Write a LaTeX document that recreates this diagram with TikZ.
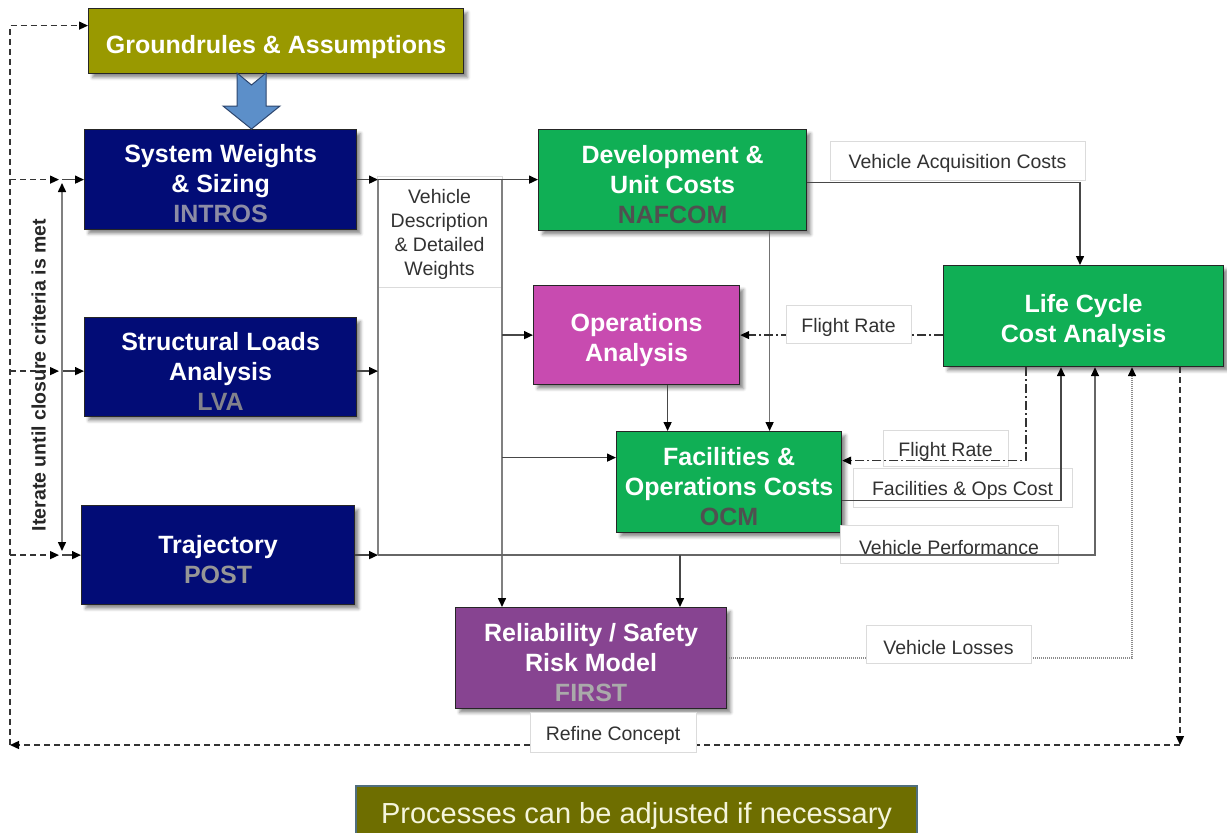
\documentclass[tikz,border=0pt]{standalone}
\usepackage{fontspec}
\setmainfont{Liberation Sans}
\usetikzlibrary{arrows.meta,shadows.blur,calc}
\definecolor{grsol}{RGB}{153,153,0}
\definecolor{navyb}{RGB}{2,12,118}
\definecolor{greenb}{RGB}{16,175,85}
\definecolor{magb}{RGB}{200,75,176}
\definecolor{purb}{RGB}{135,68,145}
\definecolor{botol}{RGB}{110,110,0}
\definecolor{botedge}{RGB}{80,110,125}
\definecolor{arrblue}{RGB}{92,143,201}
\definecolor{arrdark}{RGB}{45,70,110}
\definecolor{subintros}{RGB}{140,140,165}
\definecolor{sublva}{RGB}{130,130,140}
\definecolor{subpost}{RGB}{150,150,150}
\definecolor{subdark}{RGB}{80,80,80}
\definecolor{subfirst}{RGB}{170,170,170}
\definecolor{lbltext}{RGB}{50,50,50}
\definecolor{cream}{RGB}{245,245,220}
\newcommand\boxstrut{\rule{0pt}{27pt}}
\newcommand\lblstrut{\rule{0pt}{21pt}}
\begin{document}
\begin{tikzpicture}[x=1pt,y=-1pt,
  tip/.tip={Triangle[length=9pt,width=8pt,color=black]},
  proc/.style={draw=black!85, line width=1.2pt, anchor=north west, inner sep=0pt,
    align=center, text=white, font=\bfseries\fontsize{25}{30}\selectfont,
    blur shadow={shadow xshift=4pt, shadow yshift=-4pt, shadow blur radius=3pt, shadow opacity=45}},
  lbl/.style={draw=black!14, line width=0.8pt, fill=white, inner sep=0pt, align=center,
    text=lbltext, font=\fontsize{19.5}{24}\selectfont},
  conn/.style={draw=black!72, line width=1.5pt, -tip},
  gline/.style={draw=black!50, line width=1.5pt},
  dashconn/.style={draw=black!80, line width=1.3pt, dash pattern=on 6pt off 4pt, -tip},
  dashdotconn/.style={draw=black!80, line width=1.3pt, dash pattern=on 9pt off 3pt on 2pt off 3pt, -tip},
  dotconn/.style={draw=black!45, line width=1.5pt, dash pattern=on 1pt off 1pt, -tip}
]
\useasboundingbox (0,0) rectangle (1227,833);
\clip (0,0) rectangle (1227,833);

% ---- process boxes ----
\node[proc, fill=grsol, minimum width=375pt, minimum height=65pt] (grs) at (88,8) {\rule{0pt}{30pt}Groundrules \& Assumptions};
\node[proc, fill=navyb, minimum width=272pt, minimum height=100pt] (sws) at (84,129)
  {\boxstrut System Weights\\\& Sizing\\\textcolor{subintros}{INTROS}};
\node[proc, fill=navyb, minimum width=272pt, minimum height=99pt] (sla) at (84,317)
  {\boxstrut Structural Loads\\Analysis\\\textcolor{sublva}{LVA}};
\node[proc, fill=navyb, minimum width=273pt, minimum height=99pt] (traj) at (81,505)
  {\boxstrut Trajectory\\\textcolor{subpost}{POST}};
\node[proc, fill=greenb, minimum width=268pt, minimum height=101pt] (duc) at (538,129)
  {\boxstrut Development \&\\Unit Costs\\\textcolor{subdark}{NAFCOM}};
\node[proc, fill=magb, minimum width=206pt, minimum height=99pt] (ops) at (533,285)
  {\boxstrut Operations\\Analysis};
\node[proc, fill=greenb, minimum width=280pt, minimum height=101pt] (lcc) at (943,265)
  {\boxstrut Life Cycle\\Cost Analysis};
\node[proc, fill=greenb, minimum width=225pt, minimum height=101pt] (fac) at (616,431)
  {\boxstrut Facilities \&\\Operations Costs\\\textcolor{subdark}{OCM}};
\node[proc, fill=purb, minimum width=271pt, minimum height=101pt] (rel) at (455,607)
  {\boxstrut Reliability / Safety\\Risk Model\\\textcolor{subfirst}{FIRST}};

% ---- big arrow ----
\draw[fill=arrblue, draw=arrdark, line width=1pt]
  (237,73) -- (251.5,85) -- (266,73) -- (266,106) -- (280,106) -- (251.5,129)
  -- (223,106) -- (237,106) -- cycle;

% ---- labels lying under the lines ----
\node[lbl, minimum width=125pt, minimum height=111pt] (vdd) at (439.5,231.5)
  {\lblstrut Vehicle\\Description\\\& Detailed\\Weights};
\node[lbl, minimum width=125pt, minimum height=36pt] (fr2) at (945.5,448) {\lblstrut Flight Rate};
\node[lbl, minimum width=219pt, minimum height=39pt] (foc) at (962.5,487.5) {\lblstrut Facilities \& Ops Cost};
\node[lbl, minimum width=218pt, minimum height=38pt] (vp) at (949,544) {\lblstrut Vehicle Performance};

% ---- helper coordinates ----
\coordinate (j1) at (378,0);
\coordinate (j4) at (502,0);
\coordinate (j7) at (680,0);
\coordinate (vpx) at (1095,0);
\coordinate (vacx) at (1080,0);
\coordinate (frx) at (1026,0);
\coordinate (focx) at (1061,0);
\coordinate (vlx) at (1132,0);
\coordinate (rfx) at (1180,0);
\coordinate (bl) at (1180,745);
\coordinate (lb) at (10,745);
\coordinate (ix) at (59,0);
\coordinate (iv) at (62,0);
\coordinate (itop) at (62,183);
\coordinate (ibot) at (62,551);
\coordinate (slaout) at ([yshift=-4pt]sla.east);
\coordinate (slain) at ([yshift=-4pt]sla.west);
\coordinate (facin) at ([yshift=24.5pt]fac.west);
\coordinate (opsout) at ([xshift=31pt]ops.south);
\coordinate (ducout) at ([xshift=97pt]duc.south);
\coordinate (ducr) at ([yshift=-2.5pt]duc.east);
\coordinate (facfr) at ([yshift=21.5pt]fac.east);
\coordinate (facfo) at ([yshift=-18.5pt]fac.east);
\coordinate (grsin) at ([yshift=15.5pt]grs.west);

% ---- vehicle description bus ----
\draw[gline] (sws.east -| j1) -- (traj.east -| j1);
\draw[conn, draw=black!50] (sws.east -| j4) -- (rel.north -| j4);
\draw[conn] (sws.east) -- (sws.east -| j1);
\draw[conn] (sws.east -| j1) -- (sws.east -| duc.west);
\draw[conn] (slaout) -- (slaout -| j1);
\draw[conn] (traj.east) -- (traj.east -| j1);
\draw[conn, draw=black!60] (traj.east -| j1) -- (traj.east -| vpx) -- (lcc.south -| vpx);
\draw[conn] (ops.west -| j4) -- (ops.west);
\draw[conn] (facin -| j4) -- (facin);
\draw[conn] (traj.east -| j7) -- (rel.north -| j7);
\draw[conn] (opsout) -- (opsout |- fac.north);
\draw[conn, draw=black!55] (ducout) -- (ducout |- fac.north);
\draw[conn] (ducr) -- (ducr -| vacx) -- (lcc.north -| vacx);
\draw[dashdotconn] (lcc.west |- ops.east) -- (ops.east);
\draw[dashdotconn] (lcc.south -| frx) -- (facfr -| frx) -- (facfr);
\draw[conn] (facfo) -- (facfo -| focx) -- (lcc.south -| focx);
\draw[dotconn] (rel.east) -- (rel.east -| vlx) -- (lcc.south -| vlx);

% ---- refine loop ----
\draw[dashconn] (lcc.south -| rfx) -- (bl);
\draw[dashconn] (bl) -- (lb);
\draw[dashconn] (lb) -- (lb |- grsin) -- (grsin);
\draw[dashconn] (lb |- sws.west) -- (ix |- sws.west);
\draw[dashconn] (lb |- slain) -- (ix |- slain);
\draw[dashconn] (lb |- traj.west) -- (ix |- traj.west);
\draw[conn] (iv |- sws.west) -- (sws.west);
\draw[conn] (iv |- slain) -- (slain);
\draw[conn] (iv |- traj.west) -- (traj.west);
\draw[gline, tip-tip] (itop) -- (ibot);
\node[rotate=90, anchor=base, font=\bfseries\fontsize{19.5}{24}\selectfont, text=black!85] (iter) at (45.5,375)
  {Iterate until closure criteria is met};

% ---- labels lying over the lines ----
\node[lbl, minimum width=255pt, minimum height=39pt] (vac) at (957.5,160.5) {\lblstrut Vehicle Acquisition Costs};
\node[lbl, minimum width=125pt, minimum height=38pt] (fr1) at (848.5,324) {\lblstrut Flight Rate};
\node[lbl, minimum width=165pt, minimum height=38pt] (vl) at (948.5,644) {\lblstrut Vehicle Losses};
\node[lbl, minimum width=166pt, minimum height=40pt] (rc) at (613,732) {\lblstrut Refine Concept};

% ---- bottom note ----
\node[draw=botedge, line width=1.5pt, fill=botol, anchor=north, minimum width=561pt, minimum height=58pt,
  inner sep=0pt, text=cream, font=\fontsize{29}{34}\selectfont, text depth=0pt] (note) at (636.5,785)
  {\raisebox{4pt}{Processes can be adjusted if necessary}};
\end{tikzpicture}
\end{document}
